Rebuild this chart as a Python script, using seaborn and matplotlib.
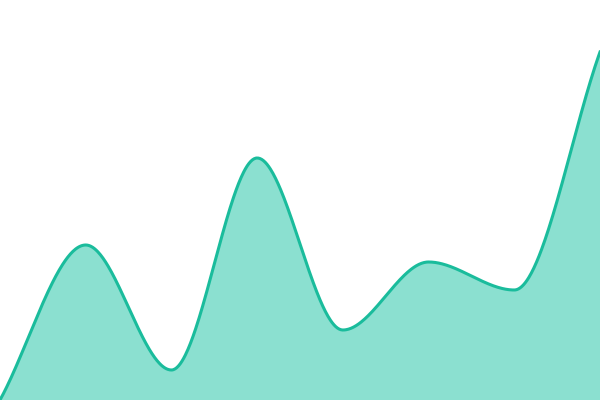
import numpy as np
import pandas as pd
import seaborn as sns
import matplotlib
matplotlib.use("Agg")
import matplotlib.pyplot as plt

# data (height above the bottom edge, px-ish units)
steps = [0, 1, 2, 3, 4, 5, 6, 7]
values = [0, 155, 30, 242, 70, 138, 110, 348]

line_color = "#1abc9c"
fill_color = "#8be0d0"


def pchip(x, y, xs):
    # monotone cubic (Fritsch-Carlson) smoothing, like a monotone-x curve
    x = np.asarray(x, float)
    y = np.asarray(y, float)
    h = np.diff(x)
    d = np.diff(y) / h
    m = np.zeros_like(y)
    for i in range(1, len(y) - 1):
        if d[i - 1] * d[i] > 0:
            w1 = 2 * h[i] + h[i - 1]
            w2 = h[i] + 2 * h[i - 1]
            m[i] = (w1 + w2) / (w1 / d[i - 1] + w2 / d[i])
    m[0] = d[0]
    m[-1] = d[-1]
    idx = np.clip(np.searchsorted(x, xs) - 1, 0, len(x) - 2)
    t = (xs - x[idx]) / h[idx]
    h00 = 2 * t**3 - 3 * t**2 + 1
    h10 = t**3 - 2 * t**2 + t
    h01 = -2 * t**3 + 3 * t**2
    h11 = t**3 - t**2
    return (h00 * y[idx] + h10 * h[idx] * m[idx]
            + h01 * y[idx + 1] + h11 * h[idx] * m[idx + 1])


xs = np.linspace(steps[0], steps[-1], 700)
smooth = pd.DataFrame({"step": xs, "value": pchip(steps, values, xs)})

fig = plt.figure(figsize=(6, 4), dpi=100)
ax = fig.add_axes([0, 0, 1, 1])

ax.fill_between(smooth["step"], smooth["value"], 0, color=fill_color, linewidth=0)
sns.lineplot(data=smooth, x="step", y="value", ax=ax, color=line_color,
             linewidth=2.2, estimator=None)

ax.set_xlim(steps[0], steps[-1])
ax.set_ylim(0, 400)
ax.axis("off")

plt.savefig("out.png", dpi=100)
